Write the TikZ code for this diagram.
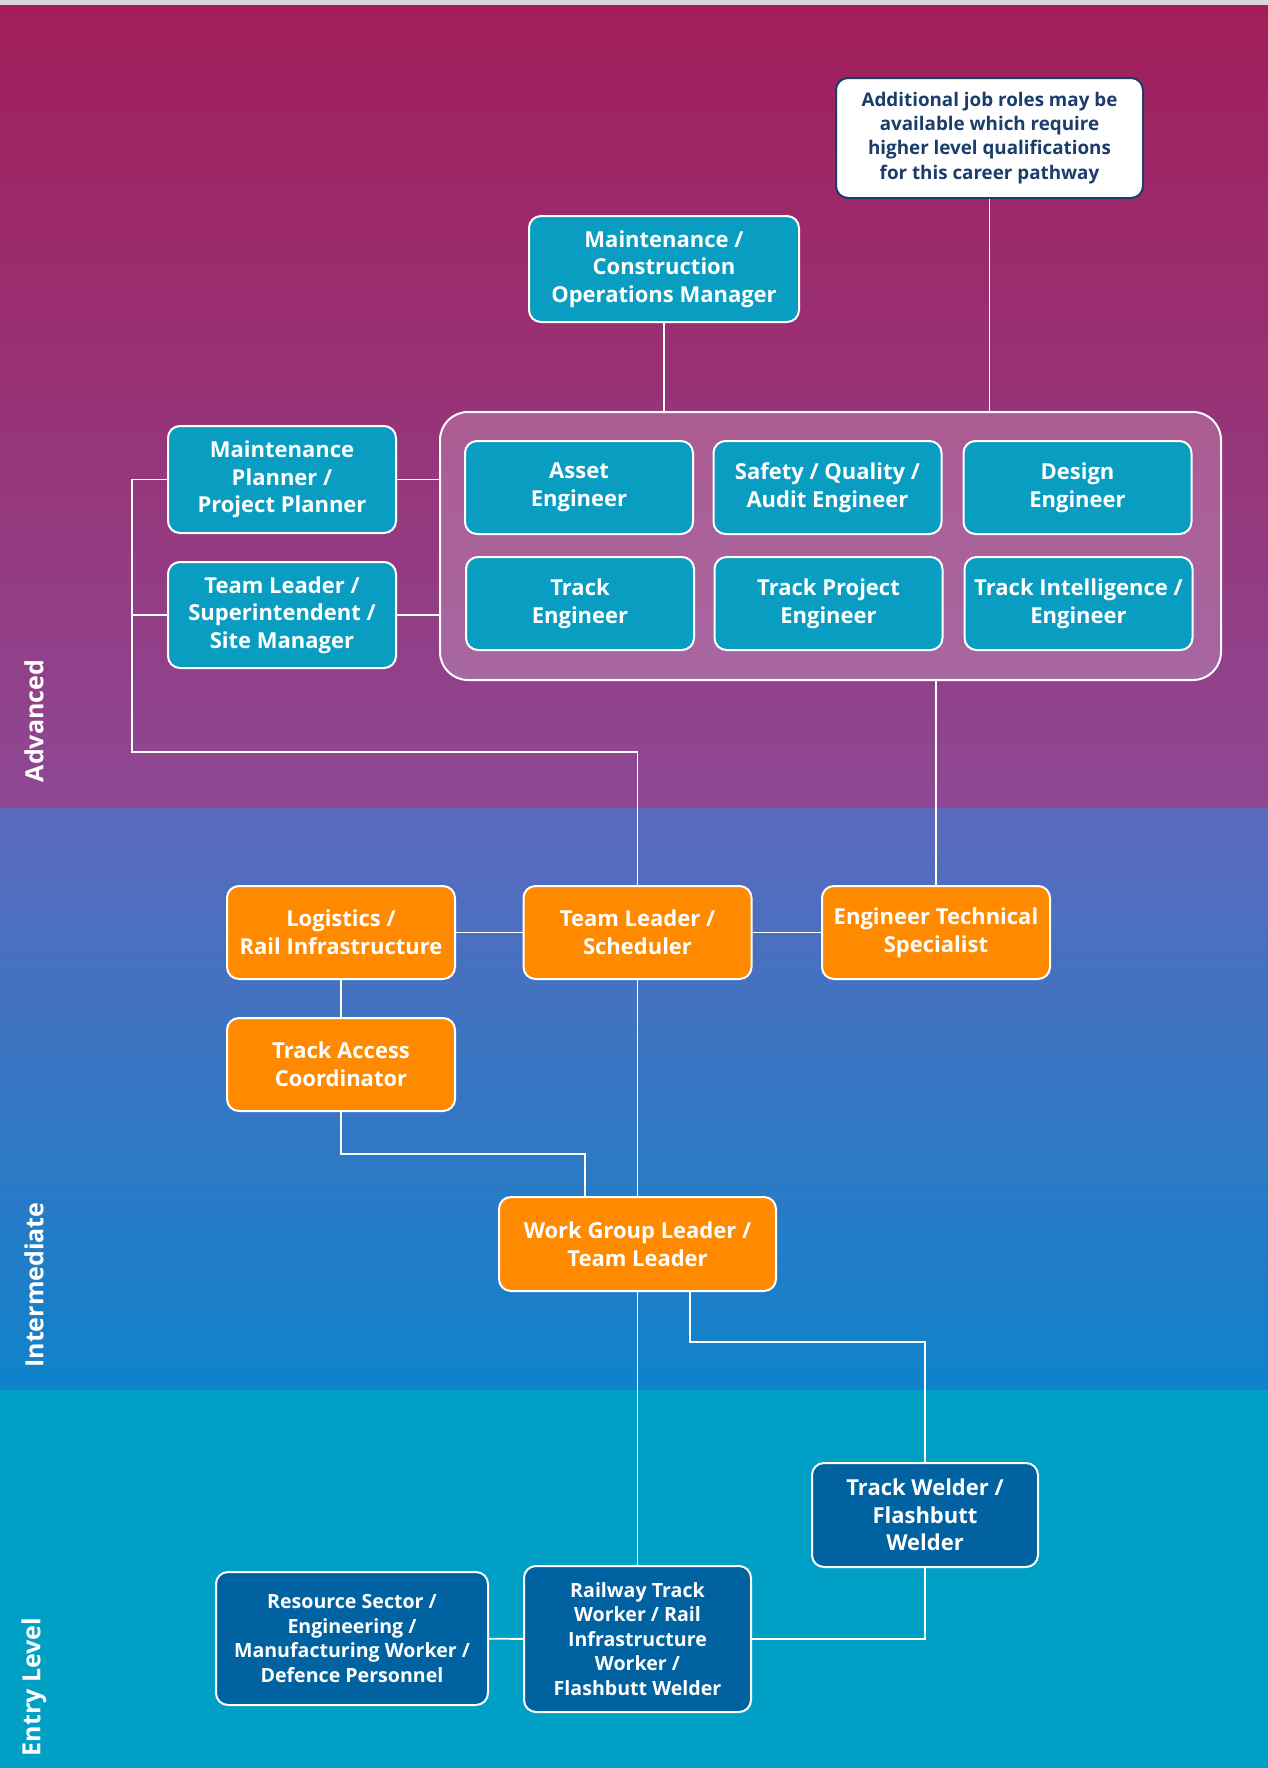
\documentclass[tikz,border=0pt]{standalone}
\usepackage{fontspec}
\setmainfont{Open Sans}
\definecolor{topgray}{HTML}{D9D9D9}
\definecolor{advtop}{HTML}{A11E5A}
\definecolor{advbot}{HTML}{8E4894}
\definecolor{intertop}{HTML}{5C6ABD}
\definecolor{interbot}{HTML}{0E83CA}
\definecolor{entrybg}{HTML}{009FC5}
\definecolor{tealbox}{HTML}{0A9DC2}
\definecolor{orangebox}{HTML}{FF8A00}
\definecolor{bluebox}{HTML}{0062A0}
\definecolor{navytext}{HTML}{1A3D6B}
\tikzstyle{role} = [rectangle,
rounded corners=6pt,
draw=white,
line width=1pt,
text=white,
align=center,
inner sep=2pt,
minimum width=114pt,
minimum height=46.5pt,
font=\bfseries\fontsize{11}{13.8}\selectfont]
\tikzstyle{advrole} = [role, fill=tealbox]
\tikzstyle{interrole} = [role, fill=orangebox]
\tikzstyle{entryrole} = [role, fill=bluebox, font=\bfseries\fontsize{9.8}{12.3}\selectfont]
\tikzstyle{level} = [rotate=90, text=white, font=\bfseries\fontsize{12.5}{15}\selectfont]
\tikzstyle{link} = [draw=white, line width=0.95pt]

\begin{document}
\begin{tikzpicture}[x=0.5pt, y=-0.5pt]
    % bands
    \fill[topgray] (0,0) rectangle (1268,5);
    \shade[top color=advtop, bottom color=advbot] (0,5) rectangle (1268,808);
    \shade[top color=intertop, bottom color=interbot] (0,808) rectangle (1268,1390);
    \fill[entrybg] (0,1390) rectangle (1268,1768);
    \useasboundingbox (0,0) rectangle (1268,1768);

    \node (lvladv) [level] at (34,721) {Advanced};
    \node (lvlinter) [level] at (34,1285) {Intermediate};
    \node (lvlentry) [level] at (34,1687) {Entry Level};

    % advanced
    \node (note) [role, fill=white, draw=navytext, text=navytext, minimum width=153.5pt, minimum height=60pt, font=\bfseries\fontsize{9.4}{12.1}\selectfont] at (989.5,138) {Additional job roles may be\\available which require\\higher level qualifications\\for this career pathway};
    \node (opsmgr) [advrole, minimum width=135pt, minimum height=53pt] at (664,269) {Maintenance /\\Construction\\Operations Manager};
    \node (group) [draw=white, line width=1pt, rounded corners=14pt, fill=white, fill opacity=0.2, minimum width=390.5pt, minimum height=134pt] at (830.5,546) {};
    \node (asset) [advrole] at (579,487.5) {Asset\\Engineer};
    \node (safety) [advrole] at (827.5,487.5) {Safety / Quality /\\Audit Engineer};
    \node (design) [advrole] at (1077.5,487.5) {Design\\Engineer};
    \node (tracke) [advrole] at (580,603.5) {Track\\Engineer};
    \node (trackproj) [advrole] at (828.5,603.5) {Track Project\\Engineer};
    \node (trackintel) [advrole] at (1078.5,603.5) {Track Intelligence /\\Engineer};
    \node (mplanner) [advrole, minimum height=53.5pt] at (282,479.5) {Maintenance\\Planner /\\Project Planner};
    \node (tlsuper) [advrole, minimum height=53pt] at (282,615) {Team Leader /\\Superintendent /\\Site Manager};

    % intermediate
    \node (logistics) [interrole] at (341,932.5) {Logistics /\\Rail Infrastructure};
    \node (tlsched) [interrole] at (637.5,932.5) {Team Leader /\\Scheduler};
    \node (ets) [interrole] at (936,932.5) {Engineer Technical\\Specialist};
    \node (tac) [interrole] at (341,1064.5) {Track Access\\Coordinator};
    \node (wgl) [interrole, minimum width=138.5pt, minimum height=47pt] at (637.5,1244) {Work Group Leader /\\Team Leader};

    % entry level
    \node (welder) [entryrole, minimum width=113pt, minimum height=52pt, font=\bfseries\fontsize{11}{13.8}\selectfont] at (925,1515) {Track Welder /\\Flashbutt\\Welder};
    \node (railway) [entryrole, minimum width=113.5pt, minimum height=73pt] at (637.5,1639) {Railway Track\\Worker / Rail\\Infrastructure\\Worker /\\Flashbutt Welder};
    \node (resource) [entryrole, minimum width=136pt, minimum height=66.5pt] at (352,1638.5) {Resource Sector /\\Engineering /\\Manufacturing Worker /\\Defence Personnel};

    \coordinate (lbend) at (132,752);
    \coordinate (tacj) at (585,1154);
    \coordinate (wjog) at (690,1342);

    \draw [link] (opsmgr) -- (opsmgr.south |- group.north);
    \draw [link] (note) -- (note.south |- group.north);
    \draw [link] (mplanner.east) -- (mplanner.east -| group.west);
    \draw [link] (tlsuper.east) -- (tlsuper.east -| group.west);
    \draw [link] (mplanner.west) -| (lbend) -| (tlsched.north);
    \draw [link] (tlsuper.west) -- (tlsuper.west -| lbend);
    \draw [link] (ets.north) -- (ets.north |- group.south);
    \draw [link] (logistics) -- (tlsched);
    \draw [link] (tlsched) -- (ets);
    \draw [link] (logistics) -- (tac);
    \draw [link] (tac.south) |- (tacj) -- (tacj |- wgl.north);
    \draw [link] (tlsched) -- (wgl);
    \draw [link] (wjog |- wgl.south) -- (wjog) -| (welder.north);
    \draw [link] (wgl.south) -- (railway.north);
    \draw [link] (resource) -- (railway);
    \draw [link] (railway.east) -| (welder.south);
\end{tikzpicture}
\end{document}
